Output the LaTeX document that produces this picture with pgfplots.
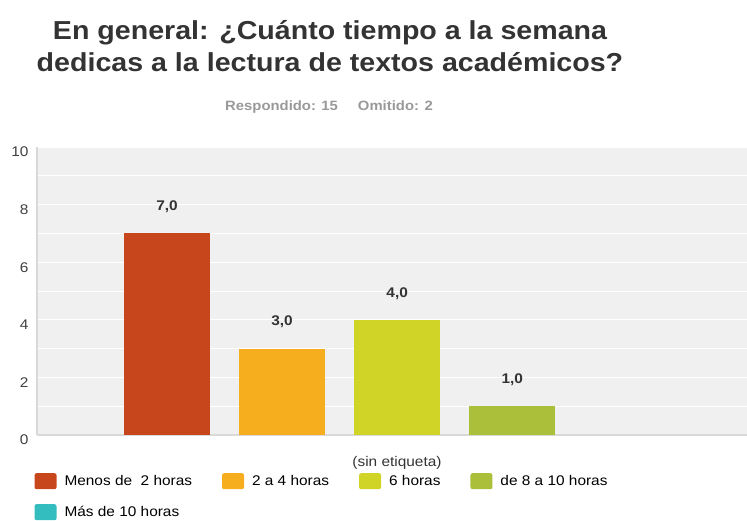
\documentclass[border=0pt]{standalone}
\usepackage{pgfplots}
\pgfplotsset{compat=1.18}
\usepackage{fontspec}
\setmainfont[FakeStretch=1.1]{Liberation Sans}
\definecolor{c1}{HTML}{C8461B}
\definecolor{c2}{HTML}{F6AE1F}
\definecolor{c3}{HTML}{CFD427}
\definecolor{c4}{HTML}{ABBF3A}
\definecolor{c5}{HTML}{33BDBF}
\definecolor{bg}{HTML}{F0F0F0}
\definecolor{txt}{HTML}{333333}
\begin{document}
\begin{tikzpicture}
\useasboundingbox (0,0) rectangle (747pt,520pt);
\begin{axis}[
  at={(37pt,85pt)}, anchor=south west,
  scale only axis, width=710pt, height=288pt,
  xmin=-1.13, xmax=5.04, ymin=0, ymax=10,
  ybar, bar width=86pt, bar shift=0pt,
  axis background/.style={fill=bg},
  axis x line*=bottom, axis y line*=left,
  axis line style={draw=black!15, line width=1.2pt},
  xtick=\empty,
  ytick={0,2,...,10}, minor ytick={1,3,...,9},
  ymajorgrids, yminorgrids,
  major grid style={white, line width=1pt},
  minor grid style={white, line width=1pt},
  major tick length=0pt, minor tick length=0pt,
  /pgf/number format/assume math mode=true,
  ticklabel style={font=\fontsize{14}{16}\selectfont, text=black!75},
  yticklabel style={xshift=-5pt, yshift=-5pt},
  nodes near coords={\pgfmathprintnumber[fixed,fixed zerofill,precision=1,use comma]{\pgfplotspointmeta}},
  every node near coord/.append style={font=\bfseries\fontsize{14}{16}\selectfont, text=txt, yshift=17pt},
  legend style={at={(-0.008,-0.125)}, anchor=north west, draw=none, fill=none,
    font=\fontsize{14}{16}\selectfont, legend columns=4, row sep=15pt,
    /tikz/every even column/.append style={column sep=28pt},
    /tikz/every odd column/.append style={column sep=6pt}},
  legend cell align=left,
  legend image code/.code={\fill[#1, rounded corners=2pt] (0pt,-8pt) rectangle (22pt,8pt);},
]
\addplot[fill=c1, draw=none] coordinates {(0,7)};
\addlegendentry{Menos de\ \ 2 horas\hspace{6pt}}
\addplot[fill=c2, draw=none] coordinates {(1,3)};
\addlegendentry{2 a 4 horas}
\addplot[fill=c3, draw=none] coordinates {(2,4)};
\addlegendentry{6 horas}
\addplot[fill=c4, draw=none] coordinates {(3,1)};
\addlegendentry{de 8 a 10 horas}
\addlegendimage{fill=c5, draw=none}
\addlegendentry{Más de 10 horas}
\end{axis}
\node[font=\bfseries\fontsize{26}{31.5}\selectfont, text=txt, align=center] at (330pt,474pt) {En general: ¿Cuánto tiempo a la semana\\dedicas a la lectura de textos académicos?};
\node[font=\bfseries\fontsize{13.5}{15}\selectfont, text=black!40] at (329pt,413pt) {Respondido: 15\hspace{20pt}Omitido: 2};
\node[font=\fontsize{14}{16}\selectfont, text=txt] at (397pt,57pt) {(sin etiqueta)};
\end{tikzpicture}
\end{document}
